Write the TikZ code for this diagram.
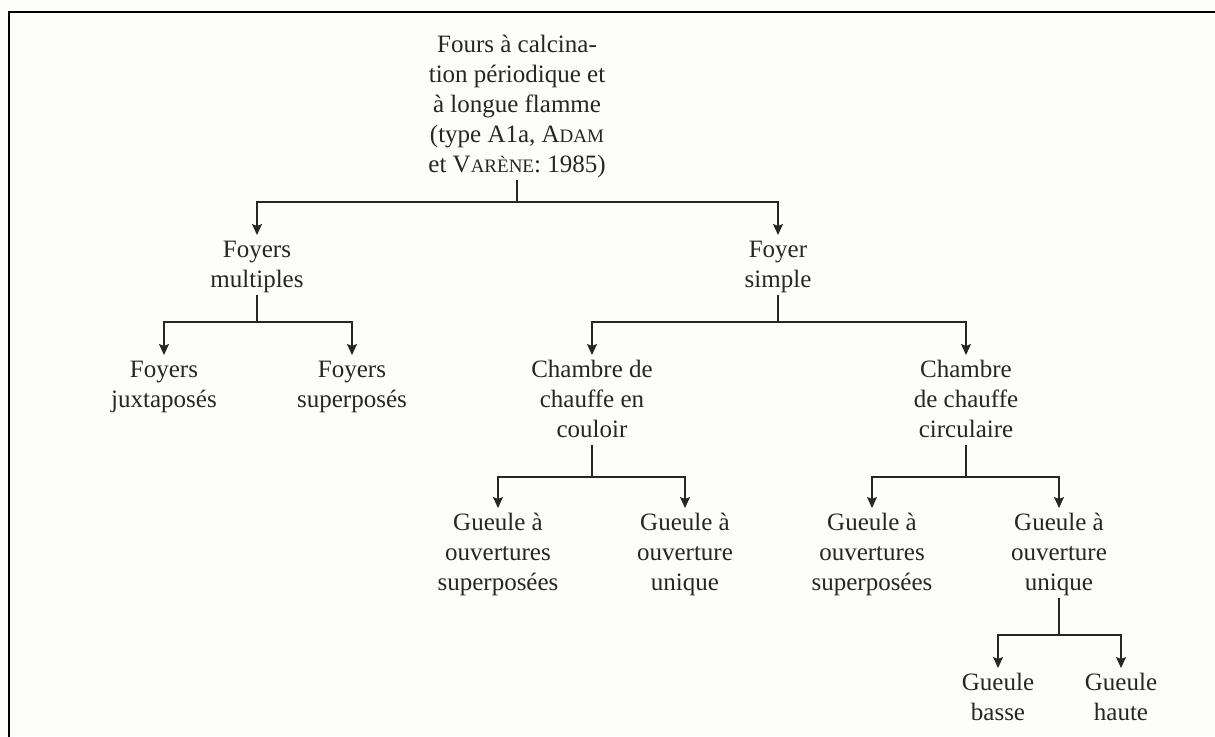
\documentclass[tikz,border=0pt]{standalone}
\usepackage{fontspec}
\setmainfont{Liberation Serif}
\usetikzlibrary{arrows.meta}
\definecolor{ink}{HTML}{262626}
\definecolor{paper}{HTML}{FDFDFB}
\newcommand\tstr{\rule{0pt}{22pt}}
\newcommand\bstr{\rule[-8pt]{0pt}{8pt}}
\newcommand\mysc[1]{{\fontsize{19}{30}\selectfont #1}}
\begin{document}
\begin{tikzpicture}[x=1pt,y=-1pt,
  lbl/.style={align=center, inner sep=0pt, anchor=north, text=ink,
    font=\fontsize{25}{30}\selectfont},
  arr/.style={draw=ink, line width=1.3pt, -{Stealth[length=11pt,width=10pt,inset=2pt]}},
  frameline/.style={draw=black, line width=2pt}]
\useasboundingbox[fill=paper] (0,0) rectangle (1215,736);
\draw[frameline] (8.5,760) -- (8.5,12) -- (1230,12);
% nodes
\node[lbl] (root) at (517,30) {\tstr Fours à calcina-\\tion périodique et\\à longue flamme\\(type A1a, A\mysc{DAM}\\et V\mysc{ARÈNE}: 1985)\bstr};
\node[lbl] (fm) at (257,235) {\tstr Foyers\\multiples\bstr};
\node[lbl] (fs) at (778,235) {\tstr Foyer\\simple\bstr};
\node[lbl] (fj) at (164,355) {\tstr Foyers\\juxtaposés\bstr};
\node[lbl] (fsp) at (352,355) {\tstr Foyers\\superposés\bstr};
\node[lbl] (cc) at (592,355) {\tstr Chambre de\\chauffe en\\couloir\bstr};
\node[lbl] (ci) at (966,355) {\tstr Chambre\\de chauffe\\circulaire\bstr};
\node[lbl] (g1) at (498,508) {\tstr Gueule à\\ouvertures\\superposées\bstr};
\node[lbl] (g2) at (685,508) {\tstr Gueule à\\ouverture\\unique\bstr};
\node[lbl] (g3) at (872,508) {\tstr Gueule à\\ouvertures\\superposées\bstr};
\node[lbl] (g4) at (1059,508) {\tstr Gueule à\\ouverture\\unique\bstr};
\node[lbl] (gb) at (998,668) {\tstr Gueule\\basse};
\node[lbl] (gh) at (1121,668) {\tstr Gueule\\haute};
% bar points
\coordinate (b0) at (517,202);
\coordinate (b1) at (257,322);
\coordinate (b2) at (778,322);
\coordinate (b3) at (592,477);
\coordinate (b4) at (966,477);
\coordinate (b5) at (1059,635);
% connectors
\draw[arr] (root.south) -- (b0) -| (fm.north);
\draw[arr] (root.south) -- (b0) -| (fs.north);
\draw[arr] (fm.south) -- (b1) -| (fj.north);
\draw[arr] (fm.south) -- (b1) -| (fsp.north);
\draw[arr] (fs.south) -- (b2) -| (cc.north);
\draw[arr] (fs.south) -- (b2) -| (ci.north);
\draw[arr] (cc.south) -- (b3) -| (g1.north);
\draw[arr] (cc.south) -- (b3) -| (g2.north);
\draw[arr] (ci.south) -- (b4) -| (g3.north);
\draw[arr] (ci.south) -- (b4) -| (g4.north);
\draw[arr] (g4.south) -- (b5) -| (gb.north);
\draw[arr] (g4.south) -- (b5) -| (gh.north);
\end{tikzpicture}
\end{document}
